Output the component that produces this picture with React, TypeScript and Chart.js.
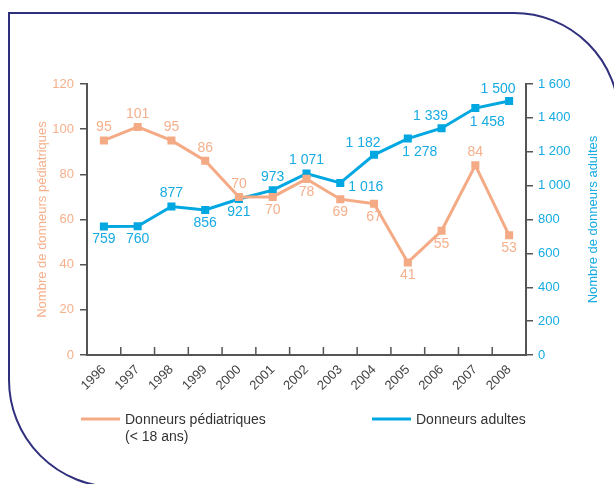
import React, { useEffect, useRef } from 'react';
import { Chart, registerables } from 'chart.js';

Chart.register(...registerables);

const years = ['1996', '1997', '1998', '1999', '2000', '2001', '2002', '2003', '2004', '2005', '2006', '2007', '2008'];
const pediatric = [95, 101, 95, 86, 70, 70, 78, 69, 67, 41, 55, 84, 53];
const adults = [759, 760, 877, 856, 921, 973, 1071, 1016, 1182, 1278, 1339, 1458, 1500];
const leftTicks = [0, 20, 40, 60, 80, 100, 120];
const rightTicks = [0, 200, 400, 600, 800, 1000, 1200, 1400, 1600];
// label placement codes: t = above, b = below, r = right, tl = above-left, br = below-right
const pediatricLabelPos = ['t', 't', 't', 't', 't', 'b', 'b', 'b', 'b', 'b', 'b', 't', 'b'];
const adultLabelPos = ['b', 'b', 't', 'b', 'b', 't', 't', 'r', 'tl', 'br', 'tl', 'br', 'tl'];

const legendPed = ['Donneurs pédiatriques', '(< 18 ans)'];
const legendAdult = 'Donneurs adultes';
const titleLeft = 'Nombre de donneurs pédiatriques';
const titleRight = 'Nombre de donneurs adultes';

const ORANGE = '#F4AB85';
const ORANGE_TXT = '#F5B08C';
const BLUE = '#00A7E1';
const BLUE_TXT = '#16ABE3';
const AXIS = '#555555';
const NAVY = '#2F2F7C';
const FONT = '"Liberation Sans", Arial, sans-serif';

const fmt = (n: number) =>
  n >= 1000 ? `${Math.floor(n / 1000)} ${String(n % 1000).padStart(3, '0')}` : String(n);

const offsets: Record<string, [number, number, CanvasTextAlign]> = {
  t: [0, -13, 'center'],
  b: [0, 13, 'center'],
  r: [8, 4, 'left'],
  tl: [-11, -12, 'center'],
  br: [12, 14, 'center'],
};

const decorPlugin = {
  id: 'decor',
  beforeDraw(chart: any) {
    const ctx = chart.ctx as CanvasRenderingContext2D;
    ctx.save();
    ctx.strokeStyle = NAVY;
    ctx.lineWidth = 2;
    ctx.beginPath();
    ctx.moveTo(9, 380);
    ctx.lineTo(9, 13);
    ctx.lineTo(514, 13);
    ctx.arc(514, 118, 105, -Math.PI / 2, 0, false);
    ctx.stroke();
    ctx.beginPath();
    ctx.arc(116, 380, 107, Math.PI, Math.PI / 2, true);
    ctx.stroke();
    ctx.restore();
  },
  afterDraw(chart: any) {
    const ctx = chart.ctx as CanvasRenderingContext2D;
    const xs = chart.scales.x;
    const area = chart.chartArea;
    ctx.save();
    // inward x ticks
    ctx.strokeStyle = AXIS;
    ctx.lineWidth = 1.5;
    const n = years.length;
    for (let i = 0; i <= n; i++) {
      let x: number;
      if (i === 0) x = xs.left;
      else if (i === n) x = xs.right;
      else x = (xs.getPixelForValue(i - 1) + xs.getPixelForValue(i)) / 2;
      ctx.beginPath();
      ctx.moveTo(x, area.bottom);
      ctx.lineTo(x, area.bottom - 8);
      ctx.stroke();
    }
    // axis titles
    ctx.font = `13px ${FONT}`;
    ctx.textAlign = 'center';
    ctx.textBaseline = 'middle';
    const cy = (area.top + area.bottom) / 2;
    ctx.fillStyle = ORANGE_TXT;
    ctx.save();
    ctx.translate(42, cy);
    ctx.rotate(-Math.PI / 2);
    ctx.fillText(titleLeft, 0, 0);
    ctx.restore();
    ctx.fillStyle = BLUE_TXT;
    ctx.save();
    ctx.translate(593, cy);
    ctx.rotate(-Math.PI / 2);
    ctx.fillText(titleRight, 0, 0);
    ctx.restore();
    // legend
    ctx.lineWidth = 3;
    ctx.strokeStyle = ORANGE;
    ctx.beginPath();
    ctx.moveTo(81, 419);
    ctx.lineTo(120, 419);
    ctx.stroke();
    ctx.strokeStyle = BLUE;
    ctx.beginPath();
    ctx.moveTo(372, 419);
    ctx.lineTo(411, 419);
    ctx.stroke();
    ctx.fillStyle = '#333333';
    ctx.font = `14px ${FONT}`;
    ctx.textAlign = 'left';
    ctx.fillText(legendPed[0], 125, 420);
    ctx.fillText(legendPed[1], 125, 437);
    ctx.fillText(legendAdult, 416, 420);
    ctx.restore();
  },
  afterDatasetsDraw(chart: any) {
    const ctx = chart.ctx as CanvasRenderingContext2D;
    ctx.save();
    ctx.font = `14px ${FONT}`;
    ctx.textBaseline = 'middle';
    const sets: [number, number[], string[], string][] = [
      [0, pediatric, pediatricLabelPos, ORANGE_TXT],
      [1, adults, adultLabelPos, BLUE_TXT],
    ];
    sets.forEach(([di, vals, pos, col]) => {
      const meta = chart.getDatasetMeta(di);
      ctx.fillStyle = col;
      meta.data.forEach((pt: any, i: number) => {
        const [dx, dy, align] = offsets[pos[i]];
        ctx.textAlign = align;
        ctx.fillText(fmt(vals[i]), pt.x + dx, pt.y + dy);
      });
    });
    ctx.restore();
  },
};

export default function App() {
  const ref = useRef<HTMLCanvasElement | null>(null);
  useEffect(() => {
    if (!ref.current) return;
    const chart = new Chart(ref.current, {
      type: 'line',
      data: {
        labels: years,
        datasets: [
          {
            label: legendPed.join(' '),
            data: pediatric,
            yAxisID: 'yL',
            borderColor: ORANGE,
            backgroundColor: ORANGE,
            borderWidth: 3,
            pointStyle: 'rect',
            pointRadius: 5.7,
            pointBorderWidth: 0,
            tension: 0,
          },
          {
            label: legendAdult,
            data: adults,
            yAxisID: 'yR',
            borderColor: BLUE,
            backgroundColor: BLUE,
            borderWidth: 3,
            pointStyle: 'rect',
            pointRadius: 5.7,
            pointBorderWidth: 0,
            tension: 0,
          },
        ],
      },
      options: {
        animation: false,
        responsive: false,
        layout: { padding: { top: 84, left: 0, right: 0, bottom: 0 } },
        plugins: { legend: { display: false }, tooltip: { enabled: false } },
        scales: {
          x: {
            type: 'category',
            offset: true,
            grid: { display: false, drawTicks: false, drawOnChartArea: false },
            border: { display: true, color: AXIS, width: 2 },
            ticks: {
              color: '#444444',
              font: { size: 13, family: FONT },
              minRotation: 45,
              maxRotation: 45,
              autoSkip: false,
              padding: 7,
            },
            afterFit: (s: any) => {
              s.height = 129;
            },
          },
          yL: {
            type: 'linear',
            position: 'left',
            min: 0,
            max: 120,
            afterBuildTicks: (s: any) => {
              s.ticks = leftTicks.map((v) => ({ value: v }));
            },
            ticks: {
              color: ORANGE_TXT,
              font: { size: 13, family: FONT },
              padding: 6,
              callback: (v: any) => fmt(Number(v)),
            },
            grid: { drawOnChartArea: false, drawTicks: true, tickLength: 7, color: AXIS, lineWidth: 1.5 },
            border: { display: true, color: AXIS, width: 2 },
            afterFit: (s: any) => {
              s.width = 87;
            },
          },
          yR: {
            type: 'linear',
            position: 'right',
            min: 0,
            max: 1600,
            afterBuildTicks: (s: any) => {
              s.ticks = rightTicks.map((v) => ({ value: v }));
            },
            ticks: {
              color: BLUE_TXT,
              font: { size: 13, family: FONT },
              padding: 5,
              callback: (v: any) => fmt(Number(v)),
            },
            grid: { drawOnChartArea: false, drawTicks: true, tickLength: 7, color: AXIS, lineWidth: 1.5 },
            border: { display: true, color: AXIS, width: 2 },
            afterFit: (s: any) => {
              s.width = 88;
            },
          },
        },
      },
      plugins: [decorPlugin],
    });
    return () => chart.destroy();
  }, []);
  return (
    <div style={{ position: 'fixed', left: 0, top: 0, width: 614, height: 484, background: '#fff' }}>
      <canvas ref={ref} width={614} height={484} style={{ display: 'block' }} />
    </div>
  );
}
